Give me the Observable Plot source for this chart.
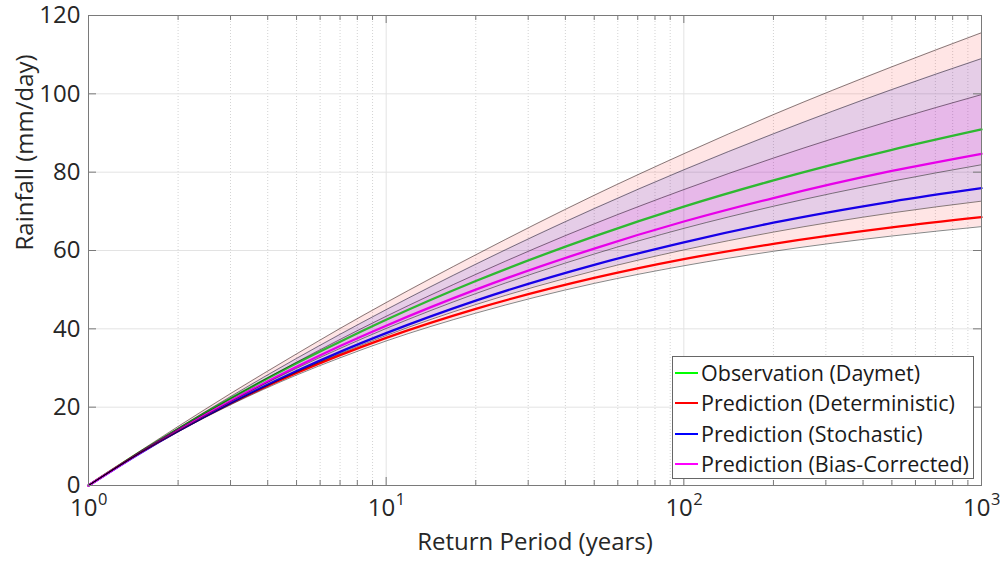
<!DOCTYPE html>
<html><head><meta charset="utf-8">
<script src="https://cdn.jsdelivr.net/npm/d3@7"></script>
<script src="https://cdn.jsdelivr.net/npm/@observablehq/plot@0.6"></script>
<style>
body{margin:0;background:#fff;font-family:"Open Sans",sans-serif;}
#wrap{position:relative;width:1000px;height:565px;}
#legend{position:absolute;left:672px;top:356px;width:302px;height:123px;border:1px solid #666;background:#fff;box-sizing:border-box;}
.row{position:absolute;left:0;height:30px;display:flex;align-items:center;}
.sw{width:23px;height:2px;margin-left:2px;margin-right:3px}
.lab{font-size:21.5px;color:#1a1a1a;white-space:nowrap;line-height:30px}
</style></head><body><div id="wrap"></div>
<script>
// Return period (years)
const returnPeriod = [1, 1.5, 2, 3, 5, 7, 10, 20, 50, 100, 200, 500, 1000];
// Central curves (mm/day)
const observation   = [0, 8.67, 14.46, 22.2, 31.2, 36.7, 42.3, 52.2, 63.6, 71.2, 77.9, 85.7, 90.9];
const deterministic = [0, 8.47, 13.93, 20.93, 28.72, 33.29, 37.7, 45.1, 53.0, 57.8, 61.7, 65.9, 68.5];
const stochastic    = [0, 8.39, 13.89, 21.06, 29.23, 34.13, 38.9, 47.2, 56.35, 62.1, 67.1, 72.5, 75.9];
const biasCorrected = [0, 8.51, 14.16, 21.6, 30.3, 35.6, 40.8, 50.0, 60.5, 67.4, 73.4, 80.3, 84.7];
// Uncertainty bands (mm/day)
const outerUpper  = [0, 8.93, 15.07, 23.47, 33.6, 40.1, 46.7, 58.9, 74.1, 84.7, 94.7, 106.9, 115.6];
const outerLower  = [0, 8.36, 13.73, 20.6, 28.2, 32.6, 36.9, 44.0, 51.6, 56.1, 59.8, 63.7, 66.1];
const middleUpper = [0, 8.68, 14.61, 22.7, 32.45, 38.6, 44.9, 56.5, 70.7, 80.6, 89.8, 101.1, 109.0];
const middleLower = [0, 8.39, 13.86, 20.95, 28.94, 33.68, 38.3, 46.2, 54.8, 60.15, 64.7, 69.6, 72.6];
const innerUpper  = [0, 8.53, 14.35, 22.2, 31.5, 37.3, 43.2, 53.9, 66.8, 75.55, 83.6, 93.2, 99.8];
const innerLower  = [0, 8.43, 14.0, 21.4, 29.9, 35.0, 40.1, 49.0, 59.1, 65.65, 71.3, 77.7, 81.9];
// Ticks
const xMajorTicks = [1, 10, 100, 1000];
const xMinorTicks = [2,3,4,5,6,7,8,9,20,30,40,50,60,70,80,90,200,300,400,500,600,700,800,900];
const yTicks = [0, 20, 40, 60, 80, 100, 120];
const xLabel = "Return Period (years)";
const yLabel = "Rainfall (mm/day)";

const seriesNames = ["Observation (Daymet)", "Prediction (Deterministic)", "Prediction (Stochastic)", "Prediction (Bias-Corrected)"];
const seriesValues = [observation, deterministic, stochastic, biasCorrected];
const seriesColors = ["#00ff00", "#ff0000", "#0000ff", "#ff00ff"];

const rows = returnPeriod.map((t, i) => ({
  t, outerUpper: outerUpper[i], outerLower: outerLower[i],
  middleUpper: middleUpper[i], middleLower: middleLower[i],
  innerUpper: innerUpper[i], innerLower: innerLower[i]
}));

const W = 1000, H = 565, mL = 88, mR = 19, mT = 15, mB = 80;
const fw = W - mL - mR, fh = H - mT - mB;
const curve = "monotone-x";
const axisColor = "#7a7a7a";
const textColor = "#262626";

const marks = [];
// grid
marks.push(Plot.ruleX(xMinorTicks, {x: d => d, stroke: "#c8c8c8", strokeWidth: 0.8, strokeDasharray: "1,2"}));
marks.push(Plot.ruleX(xMajorTicks, {x: d => d, stroke: "#e3e3e3", strokeWidth: 1}));
marks.push(Plot.ruleY(yTicks, {y: d => d, stroke: "#e3e3e3", strokeWidth: 1}));
// lines
seriesValues.forEach((vals, k) => {
  marks.push(Plot.line(returnPeriod.map((t, i) => ({t, v: vals[i]})), {x: "t", y: "v", stroke: seriesColors[k], strokeWidth: 2.3, curve}));
});
// translucent bands on top
marks.push(Plot.areaY(rows, {x: "t", y1: "outerLower", y2: "outerUpper", fill: "#ff0000", fillOpacity: 0.1, curve}));
marks.push(Plot.areaY(rows, {x: "t", y1: "middleLower", y2: "middleUpper", fill: "#0000ff", fillOpacity: 0.1, curve}));
marks.push(Plot.areaY(rows, {x: "t", y1: "innerLower", y2: "innerUpper", fill: "#ff00ff", fillOpacity: 0.1, curve}));
for (const key of ["outerUpper","outerLower","middleUpper","middleLower","innerUpper","innerLower"]) {
  marks.push(Plot.line(rows, {x: "t", y: key, stroke: "#000", strokeWidth: 0.6, strokeOpacity: 0.8, curve}));
}
// ticks (inside)
marks.push(Plot.ruleX(xMajorTicks, {x: d => d, insetTop: fh - 8, stroke: axisColor}));
marks.push(Plot.ruleX(xMajorTicks, {x: d => d, insetBottom: fh - 8, stroke: axisColor}));
marks.push(Plot.ruleX(xMinorTicks, {x: d => d, insetTop: fh - 5, stroke: axisColor}));
marks.push(Plot.ruleX(xMinorTicks, {x: d => d, insetBottom: fh - 5, stroke: axisColor}));
marks.push(Plot.ruleY(yTicks, {y: d => d, insetRight: fw - 8, stroke: axisColor}));
marks.push(Plot.ruleY(yTicks, {y: d => d, insetLeft: fw - 8, stroke: axisColor}));
marks.push(Plot.frame({stroke: axisColor}));
// tick labels
marks.push(Plot.text(yTicks, {y: d => d, frameAnchor: "left", text: d => String(d), textAnchor: "end", dx: -8, fontSize: 24, fill: textColor}));
marks.push(Plot.text(xMajorTicks, {x: d => d, frameAnchor: "bottom", text: () => "10", textAnchor: "end", dx: 9, dy: 30, fontSize: 24, fill: textColor}));
marks.push(Plot.text(xMajorTicks, {x: d => d, frameAnchor: "bottom", text: d => String(Math.round(Math.log10(d))), textAnchor: "start", dx: 9.5, dy: 19, fontSize: 16.5, fill: textColor}));
// axis titles
marks.push(Plot.text([xLabel], {frameAnchor: "bottom", text: d => d, dy: 64, fontSize: 24, fill: textColor}));
marks.push(Plot.text([yLabel], {frameAnchor: "left", text: d => d, rotate: -90, dx: -63, fontSize: 24, fill: textColor}));

const chart = Plot.plot({
  width: W, height: H,
  marginLeft: mL, marginRight: mR, marginTop: mT, marginBottom: mB,
  x: {type: "log", domain: [1, 1000], axis: null},
  y: {domain: [0, 120], axis: null},
  style: {fontFamily: "'Open Sans', sans-serif", background: "#fff", overflow: "visible"},
  marks
});
const wrap = document.getElementById("wrap");
wrap.appendChild(chart);

const legend = document.createElement("div");
legend.id = "legend";
seriesNames.forEach((name, k) => {
  const row = document.createElement("div");
  row.className = "row";
  row.style.top = (1 + k * 30.3) + "px";
  row.innerHTML = `<div class="sw" style="background:${seriesColors[k]}"></div><span class="lab">${name}</span>`;
  legend.appendChild(row);
});
wrap.appendChild(legend);
</script>
</body></html>
